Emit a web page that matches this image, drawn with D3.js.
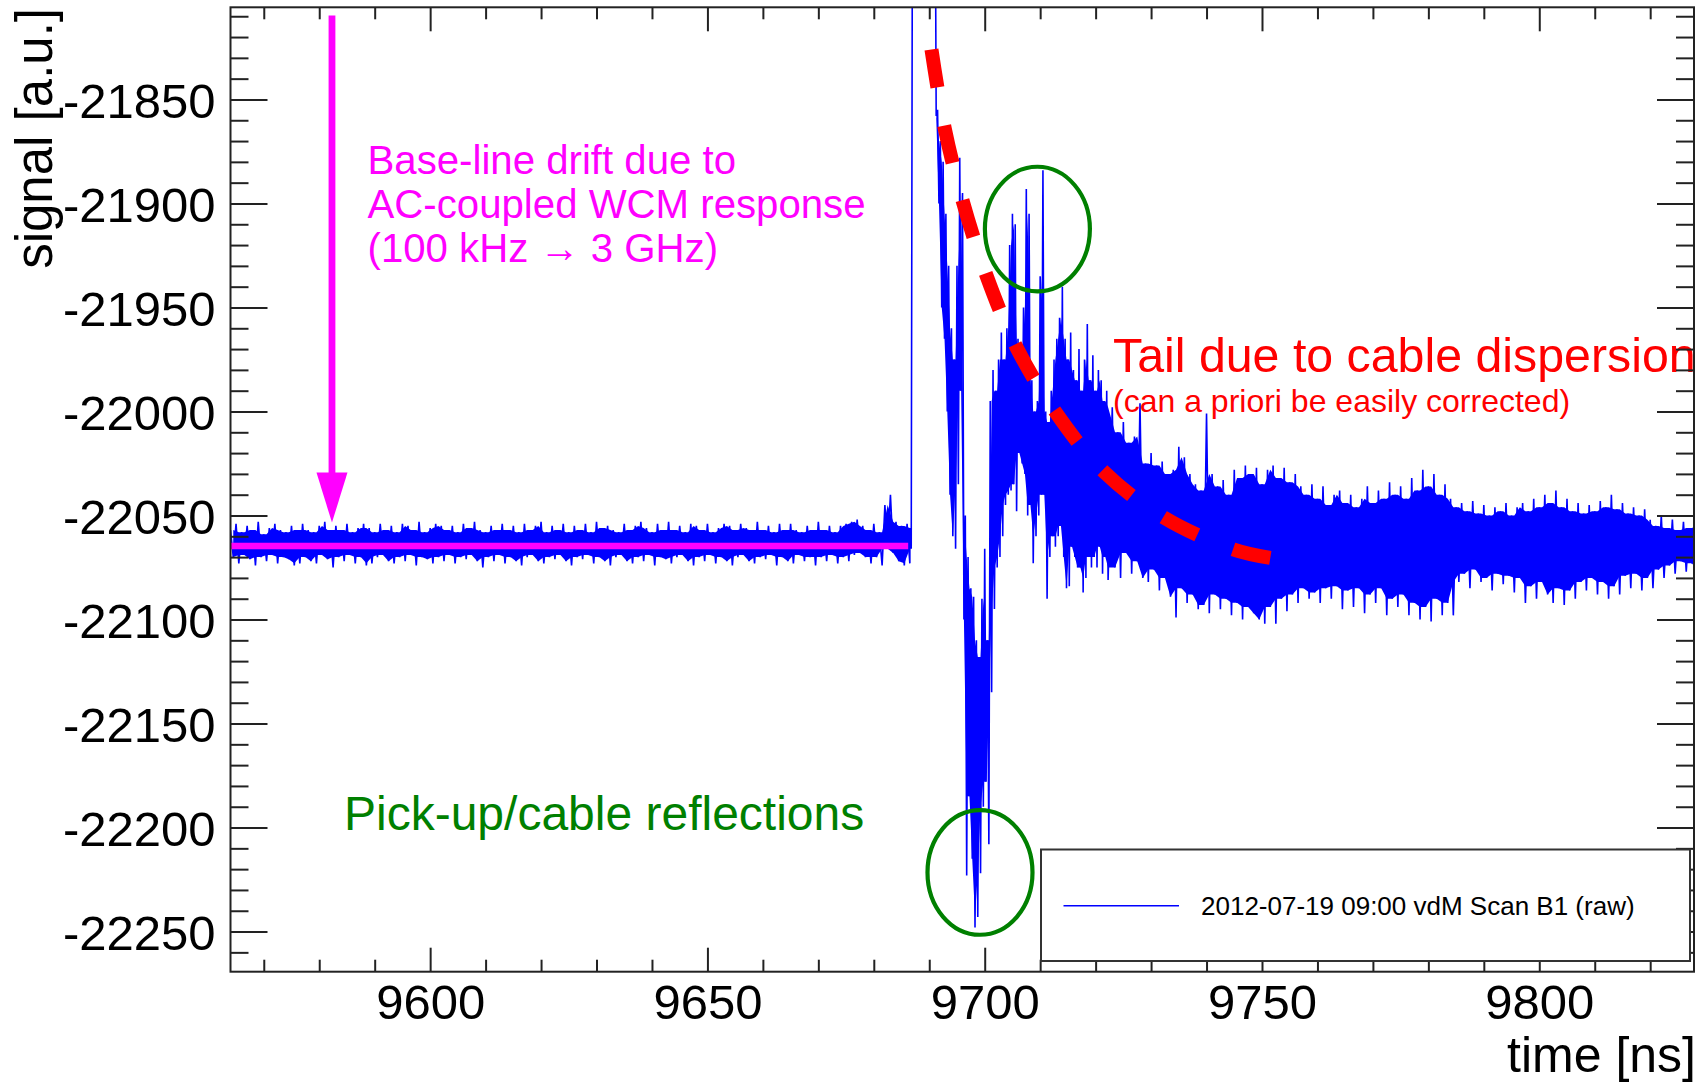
<!DOCTYPE html>
<html>
<head>
<meta charset="utf-8">
<script src="https://cdn.jsdelivr.net/npm/d3@7"></script>
<style>
  body { margin: 0; background: #fff; }
  svg text { font-family: "Liberation Sans", Arial, Helvetica, sans-serif; }
</style>
</head>
<body>
<svg id="chart" width="1706" height="1087"></svg>
<script>
// axis ranges and ticks
const xRange = [9564.0, 9827.9];
const yRange = [-22269.3, -21805.7];
const xTicks = [9600, 9650, 9700, 9750, 9800];
const yTicks = [-21850, -21900, -21950, -22000, -22050, -22100, -22150, -22200, -22250];

// waveform envelope (upper / lower excursion per sample)
// baseline part: 9564 .. 9686 ns, 1 ns apart
const baseStart = 9564, baseStep = 1;
const baseHi = [
  -22057,-22054,-22058,-22055,-22057,-22053,-22059,-22056,-22054,-22057,
  -22058,-22055,-22057,-22054,-22057,-22058,-22055,-22053,-22057,-22055,
  -22057,-22054,-22058,-22056,-22054,-22056,-22058,-22054,-22057,-22055,
  -22058,-22054,-22055,-22057,-22053,-22058,-22056,-22054,-22055,-22057,
  -22055,-22058,-22054,-22056,-22053,-22057,-22058,-22055,-22057,-22054,
  -22057,-22055,-22058,-22054,-22057,-22055,-22053,-22058,-22055,-22057,
  -22054,-22058,-22055,-22057,-22054,-22058,-22053,-22056,-22055,-22057,
  -22058,-22054,-22057,-22055,-22053,-22056,-22058,-22054,-22057,-22053,
  -22057,-22055,-22058,-22054,-22055,-22057,-22054,-22058,-22056,-22054,
  -22055,-22057,-22054,-22056,-22057,-22053,-22057,-22055,-22058,-22054,
  -22057,-22054,-22057,-22058,-22055,-22057,-22053,-22057,-22055,-22058,
  -22055,-22054,-22053,-22052,-22055,-22057,-22054,-22058,-22045,-22040,
  -22053,-22055,-22054
];
const baseLo = [
  -22070,-22073,-22069,-22071,-22074,-22070,-22072,-22069,-22073,-22070,
  -22071,-22074,-22073,-22070,-22072,-22073,-22069,-22071,-22075,-22070,
  -22072,-22069,-22073,-22070,-22074,-22073,-22070,-22069,-22072,-22073,
  -22070,-22072,-22069,-22074,-22070,-22071,-22073,-22070,-22072,-22069,
  -22073,-22070,-22071,-22069,-22072,-22075,-22070,-22072,-22069,-22073,
  -22070,-22072,-22074,-22070,-22069,-22072,-22073,-22070,-22071,-22069,
  -22072,-22074,-22070,-22071,-22069,-22073,-22070,-22072,-22074,-22070,
  -22069,-22072,-22073,-22070,-22072,-22069,-22074,-22070,-22071,-22073,
  -22070,-22069,-22072,-22074,-22070,-22072,-22069,-22073,-22070,-22072,
  -22074,-22070,-22069,-22072,-22073,-22070,-22071,-22069,-22074,-22070,
  -22072,-22073,-22069,-22072,-22070,-22074,-22070,-22072,-22069,-22073,
  -22070,-22072,-22069,-22068,-22070,-22073,-22070,-22074,-22066,-22068,
  -22072,-22074,-22073
];

// pulse part: 9686.5 .. 9722 ns, 0.5 ns apart (-21700 = off scale, clipped)
const pulseStart = 9686.5, pulseStep = 0.5;
const pulseHi = [
  -22056,-21700,-21700,-21700,-21700,-21700,-21700,-21700,-21700,
  -21700,-21855,-21870,-21880,-21905,-21930,-21960,-21975,-21930,-21878,
  -21895,-22050,-22070,-22085,-22089,-22110,-22118,-22090,-22066,-22110,
  -21995,-21980,-21990,-21975,-21962,-21975,-21960,-21920,-21905,-21910,
  -21965,-21975,-21950,-21893,-21905,-21985,-22000,-21995,-21935,-21884,
  -22000,-22005,-21990,-21975,-21965,-21955,-21940,-21965,-21975,-21962,
  -21980,-21985,-21970,-21990,-21975,-21958,-21985,-21973,-21990,-21980,
  -21985,-21995,-21990
];
const pulseLo = [
  -22066,-21700,-21700,-21700,-21700,-21700,-21700,-21700,-21700,
  -21858,-21900,-21950,-21965,-22000,-22040,-22060,-22066,-22035,-21990,
  -22100,-22223,-22185,-22215,-22248,-22243,-22222,-22190,-22178,-22208,
  -22135,-22095,-22075,-22070,-22060,-22045,-22040,-22038,-22035,-22048,
  -22020,-22025,-22030,-22050,-22045,-22073,-22060,-22050,-22040,-22040,
  -22090,-22070,-22060,-22065,-22060,-22055,-22070,-22085,-22084,-22065,
  -22070,-22075,-22075,-22087,-22080,-22070,-22075,-22070,-22075,-22065,
  -22078,-22070,-22081
];

// tail part: 9723 .. 9828 ns, 1 ns apart
const tailStart = 9723, tailStep = 1;
const tailHi = [
  -21998,-22010,-22005,-22015,-22012,-21996,-22025,-22020,-22026,-22024,
  -22030,-22028,-22017,-22022,-22030,-22035,-22038,-22001,-22030,-22036,
  -22033,-22040,-22028,-22032,-22026,-22030,-22027,-22035,-22028,-22026,
  -22032,-22027,-22034,-22030,-22036,-22040,-22035,-22042,-22036,-22045,
  -22040,-22038,-22044,-22040,-22046,-22042,-22036,-22044,-22038,-22042,
  -22034,-22040,-22036,-22042,-22032,-22038,-22028,-22036,-22030,-22040,
  -22035,-22042,-22046,-22044,-22048,-22043,-22049,-22045,-22050,-22046,
  -22048,-22044,-22050,-22046,-22044,-22048,-22042,-22046,-22040,-22044,
  -22038,-22046,-22042,-22048,-22044,-22049,-22045,-22048,-22043,-22046,
  -22040,-22047,-22044,-22049,-22046,-22050,-22047,-22052,-22055,-22050,
  -22056,-22052,-22057,-22053,-22056,-22055
];
const tailLo = [
  -22075,-22080,-22068,-22078,-22072,-22080,-22082,-22076,-22086,-22080,
  -22089,-22099,-22085,-22092,-22088,-22095,-22093,-22097,-22088,-22095,
  -22090,-22098,-22092,-22100,-22094,-22097,-22100,-22102,-22094,-22102,
  -22090,-22096,-22088,-22092,-22085,-22090,-22087,-22092,-22085,-22090,
  -22084,-22095,-22086,-22094,-22085,-22097,-22088,-22092,-22085,-22098,
  -22090,-22094,-22088,-22098,-22092,-22100,-22094,-22101,-22090,-22098,
  -22092,-22098,-22082,-22078,-22085,-22076,-22082,-22080,-22086,-22078,
  -22083,-22079,-22087,-22080,-22092,-22084,-22090,-22082,-22088,-22092,
  -22085,-22093,-22086,-22090,-22082,-22086,-22080,-22088,-22082,-22090,
  -22084,-22088,-22079,-22085,-22078,-22086,-22080,-22085,-22076,-22080,
  -22074,-22078,-22072,-22077,-22073,-22076
];

// annotations (data coordinates)
const baselineLevel = -22064.7, baselineEnd = 9686.2;
const arrowT = 9582.3, arrowFrom = -21809.7, arrowTip = -22053.4;
const tailCurveT = [9690.4, 9692.8, 9696.0, 9700.3, 9705.7, 9712.7, 9721.5, 9732.3, 9744.8, 9751.5];
const tailCurveV = [-21826, -21864, -21898.5, -21934.5, -21969, -22000, -22029, -22051, -22066.3, -22070.4];
const reflT = [9709.5, 9699.15];
const reflV = [-21912.3, -22221.6];
const legendLabel = "2012-07-19 09:00 vdM Scan B1 (raw)";

// ---------------------------------------------------------------
const svg = d3.select("#chart");
const frame = { left: 230.5, right: 1694, top: 7.3, bottom: 971.7 };

const x = d3.scaleLinear().domain(xRange).range([frame.left, frame.right]);
const y = d3.scaleLinear().domain(yRange).range([frame.bottom, frame.top]);

svg.append("rect").attr("width", 1706).attr("height", 1087).attr("fill", "#fff");

svg.append("clipPath").attr("id", "plotclip")
  .append("rect")
  .attr("x", frame.left).attr("y", frame.top)
  .attr("width", frame.right - frame.left).attr("height", frame.bottom - frame.top);

// samples
function segment(t0, step, hi, lo) {
  return hi.map((h, i) => ({ t: t0 + i * step, step: step, hi: h, lo: lo[i] }));
}
const samples = [].concat(
  segment(baseStart, baseStep, baseHi, baseLo),
  segment(pulseStart, pulseStep, pulseHi, pulseLo),
  segment(tailStart, tailStep, tailHi, tailLo)
);

// solid core of the trace: inner envelope of each sample and the next one
samples.forEach((s, i) => {
  const nb = samples.slice(i, i + 2);
  let cHi = d3.min(nb, d => d.hi);
  let cLo = d3.max(nb, d => d.lo);
  if (cLo > cHi) { cHi = cLo = (s.hi + s.lo) / 2; }
  s.cHi = cHi; s.cLo = cLo;
});

const plot = svg.append("g").attr("clip-path", "url(#plotclip)");

plot.append("path")
  .datum(samples)
  .attr("fill", "#0000ff")
  .attr("d", d3.area()
    .x(d => x(d.t + d.step / 2))
    .y0(d => y(d.cLo))
    .y1(d => y(d.cHi)));

const zig = [];
samples.forEach(s => {
  zig.push([s.t, s.hi]);
  zig.push([s.t + s.step / 2, s.lo]);
});
plot.append("path")
  .datum(zig)
  .attr("fill", "none")
  .attr("stroke", "#0000ff")
  .attr("stroke-width", 1.6)
  .attr("d", d3.line().x(d => x(d[0])).y(d => y(d[1])));

// magenta baseline and arrow
plot.append("line")
  .attr("x1", x(xRange[0])).attr("x2", x(baselineEnd))
  .attr("y1", y(baselineLevel)).attr("y2", y(baselineLevel))
  .attr("stroke", "#ff00ff").attr("stroke-width", 6.5);

const ax = x(arrowT), aTop = y(arrowFrom), aTip = y(arrowTip);
const headLen = 50, headHalf = 15.5;
plot.append("line")
  .attr("x1", ax).attr("x2", ax)
  .attr("y1", aTop).attr("y2", aTip - headLen + 2)
  .attr("stroke", "#ff00ff").attr("stroke-width", 6.8);
plot.append("path")
  .attr("fill", "#ff00ff")
  .attr("d", `M${ax - headHalf},${aTip - headLen}L${ax + headHalf},${aTip - headLen}L${ax},${aTip}Z`);

// red dashed tail curve
const tailPath = plot.append("path")
  .datum(tailCurveT.map((t, i) => [t, tailCurveV[i]]))
  .attr("fill", "none")
  .attr("stroke", "#ff0000")
  .attr("stroke-width", 14)
  .attr("d", d3.line().curve(d3.curveCatmullRom).x(d => x(d[0])).y(d => y(d[1])));
const tl = tailPath.node().getTotalLength();
const period = tl / 8.5;
tailPath.attr("stroke-dasharray", `${period * 0.5} ${period * 0.5}`);

// green ellipses
plot.selectAll("ellipse.refl")
  .data(reflT.map((t, i) => [t, reflV[i]]))
  .join("ellipse")
  .attr("class", "refl")
  .attr("cx", d => x(d[0])).attr("cy", d => y(d[1]))
  .attr("rx", 52.5).attr("ry", 62.3)
  .attr("fill", "none").attr("stroke", "#008000").attr("stroke-width", 4.2);

// annotation texts
const magenta = svg.append("text").attr("fill", "#ff00ff").attr("font-size", 40.2);
["Base-line drift due to", "AC-coupled WCM response", "(100 kHz \u2192 3 GHz)"].forEach((s, i) => {
  magenta.append("tspan").attr("x", 367.5).attr("y", 173.5 + i * 44.3).text(s);
});

svg.append("text").attr("x", 1113).attr("y", 371.7)
  .attr("fill", "#ff0000").attr("font-size", 48.3)
  .text("Tail due to cable dispersion");
svg.append("text").attr("x", 1113).attr("y", 411.5)
  .attr("fill", "#ff0000").attr("font-size", 32)
  .text("(can a priori be easily corrected)");

svg.append("text").attr("x", 344).attr("y", 830)
  .attr("fill", "#008000").attr("font-size", 48)
  .text("Pick-up/cable reflections");

// axes (ticks inside, ROOT style)
const fmt = d => String(d);
const xMinor = d3.range(9570, xRange[1], 10).filter(v => !xTicks.includes(v));
const yMinor = d3.range(-22260, yRange[1], 10).filter(v => !yTicks.includes(v));

function styleAxis(g) {
  g.select(".domain").remove();
  g.selectAll(".tick line").attr("stroke", "#222").attr("stroke-width", 2);
  g.attr("font-family", null).attr("font-size", null);
  g.selectAll("text").attr("fill", "#000").attr("font-size", 49);
}

svg.append("g").attr("transform", `translate(${frame.left},0)`)
  .call(d3.axisLeft(y).tickValues(yTicks).tickSize(-37).tickPadding(15).tickFormat(fmt))
  .call(styleAxis)
  .call(g => g.selectAll("text").attr("dy", "0.36em"));
svg.append("g").attr("transform", `translate(${frame.left},0)`)
  .call(d3.axisLeft(y).tickValues(yMinor).tickSize(-18).tickFormat(""))
  .call(styleAxis);
svg.append("g").attr("transform", `translate(${frame.right},0)`)
  .call(d3.axisRight(y).tickValues(yTicks).tickSize(-37).tickFormat(""))
  .call(styleAxis);
svg.append("g").attr("transform", `translate(${frame.right},0)`)
  .call(d3.axisRight(y).tickValues(yMinor).tickSize(-18).tickFormat(""))
  .call(styleAxis);

svg.append("g").attr("transform", `translate(0,${frame.bottom})`)
  .call(d3.axisBottom(x).tickValues(xTicks).tickSize(-24).tickPadding(13).tickFormat(fmt))
  .call(styleAxis);
svg.append("g").attr("transform", `translate(0,${frame.bottom})`)
  .call(d3.axisBottom(x).tickValues(xMinor).tickSize(-12).tickFormat(""))
  .call(styleAxis);
svg.append("g").attr("transform", `translate(0,${frame.top})`)
  .call(d3.axisTop(x).tickValues(xTicks).tickSize(-24).tickFormat(""))
  .call(styleAxis);
svg.append("g").attr("transform", `translate(0,${frame.top})`)
  .call(d3.axisTop(x).tickValues(xMinor).tickSize(-12).tickFormat(""))
  .call(styleAxis);

svg.append("rect")
  .attr("x", frame.left).attr("y", frame.top)
  .attr("width", frame.right - frame.left).attr("height", frame.bottom - frame.top)
  .attr("fill", "none").attr("stroke", "#222").attr("stroke-width", 2);

// axis titles
svg.append("text")
  .attr("transform", "translate(52,8) rotate(-90)")
  .attr("text-anchor", "end").attr("font-size", 51)
  .text("signal [a.u.]");
svg.append("text")
  .attr("x", 1696).attr("y", 1072)
  .attr("text-anchor", "end").attr("font-size", 50)
  .text("time [ns]");

// legend
const leg = svg.append("g");
leg.append("rect")
  .attr("x", 1041).attr("y", 849.5).attr("width", 649).attr("height", 111.5)
  .attr("fill", "#fff").attr("stroke", "#333").attr("stroke-width", 2);
leg.append("line")
  .attr("x1", 1063.5).attr("x2", 1179).attr("y1", 905.7).attr("y2", 905.7)
  .attr("stroke", "#0000ff").attr("stroke-width", 1.5);
leg.append("text")
  .attr("x", 1201).attr("y", 915).attr("font-size", 26).attr("fill", "#000")
  .text(legendLabel);
</script>
</body>
</html>
